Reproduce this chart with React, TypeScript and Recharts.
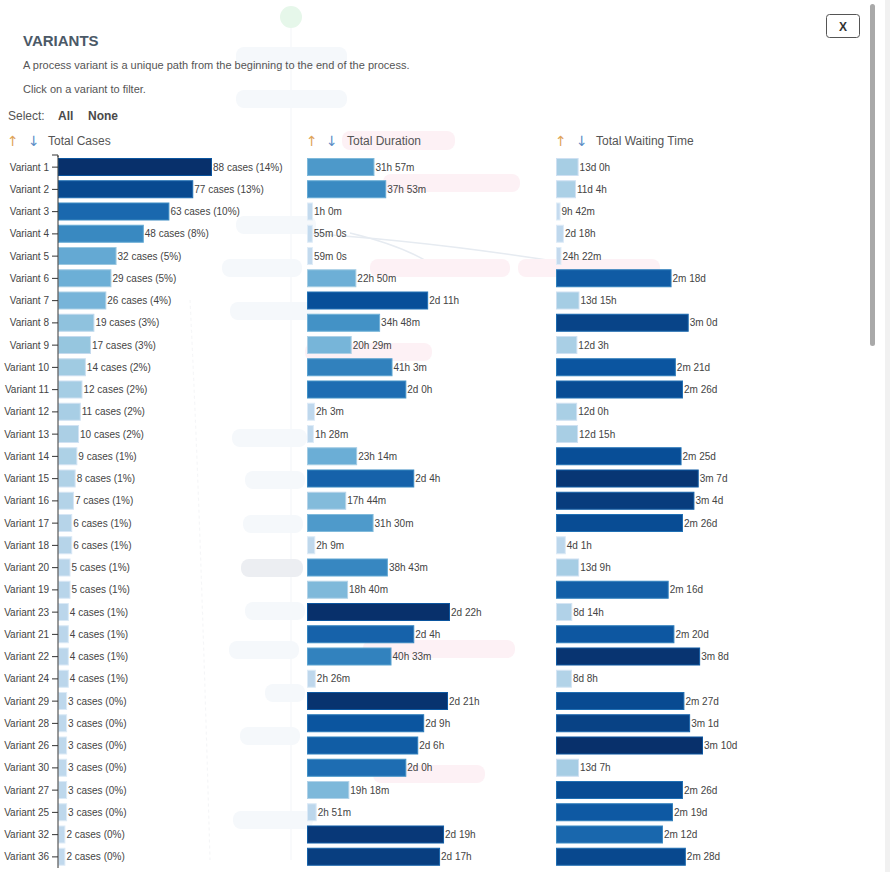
import React from 'react';
import { BarChart, Bar, XAxis, YAxis, LabelList, Cell } from 'recharts';

const FONT = '"Liberation Sans", Arial, Helvetica, sans-serif';

const variants = [
  'Variant 1', 'Variant 2', 'Variant 3', 'Variant 4', 'Variant 5', 'Variant 6', 'Variant 7', 'Variant 8',
  'Variant 9', 'Variant 10', 'Variant 11', 'Variant 12', 'Variant 13', 'Variant 14', 'Variant 15', 'Variant 16',
  'Variant 17', 'Variant 18', 'Variant 20', 'Variant 19', 'Variant 23', 'Variant 21', 'Variant 22', 'Variant 24',
  'Variant 29', 'Variant 28', 'Variant 26', 'Variant 30', 'Variant 27', 'Variant 25', 'Variant 32', 'Variant 36',
];

const totalCases = [88, 77, 63, 48, 32, 29, 26, 19, 17, 14, 12, 11, 10, 9, 8, 7, 6, 6, 5, 5, 4, 4, 4, 4, 3, 3, 3, 3, 3, 3, 2, 2];
const casePercents = [14, 13, 10, 8, 5, 5, 4, 3, 3, 2, 2, 2, 2, 1, 1, 1, 1, 1, 1, 1, 1, 1, 1, 1, 0, 0, 0, 0, 0, 0, 0, 0];

// total duration, in minutes
const totalDurationMin = [
  1917, 2273, 60, 55, 59, 1370, 3540, 2088, 1229, 2463, 2880, 123, 88, 1394, 3120, 1064,
  1890, 129, 2323, 1120, 4200, 3120, 2433, 146, 4140, 3420, 3240, 2880, 1158, 171, 4020, 3900,
];

// total waiting time, in minutes
const totalWaitingMin = [
  18720, 16080, 582, 3960, 1462, 112320, 19620, 129600, 17460, 116640, 123840, 17280, 18180, 122400, 139680, 135360,
  123840, 5820, 19260, 109440, 12360, 115200, 141120, 12000, 125280, 131040, 144000, 19140, 123840, 113760, 103680, 126720,
];

function fmtTime(min: number): string {
  if (min < 60) {
    const m = Math.floor(min);
    return `${m}m ${Math.round((min - m) * 60)}s`;
  }
  const h = min / 60;
  if (h < 48) {
    const hh = Math.floor(h);
    return `${hh}h ${Math.round(min - hh * 60)}m`;
  }
  const d = h / 24;
  if (d < 60) {
    const dd = Math.floor(d);
    return `${dd}d ${Math.round(h - dd * 24)}h`;
  }
  const mo = Math.floor(d / 30);
  return `${mo}m ${Math.round(d - mo * 30)}d`;
}

const BLUES = ['#f7fbff', '#deebf7', '#c6dbef', '#9ecae1', '#6baed6', '#4292c6', '#2171b5', '#08519c', '#08306b'];
function hex2rgb(h: string) {
  return [parseInt(h.slice(1, 3), 16), parseInt(h.slice(3, 5), 16), parseInt(h.slice(5, 7), 16)];
}
function blues(t: number): string {
  const tt = Math.max(0, Math.min(1, t));
  const pos = tt * (BLUES.length - 1);
  const i = Math.min(BLUES.length - 2, Math.floor(pos));
  const f = pos - i;
  const a = hex2rgb(BLUES[i]);
  const b = hex2rgb(BLUES[i + 1]);
  const c = a.map((v, k) => Math.round(v + (b[k] - v) * f));
  return `rgb(${c[0]},${c[1]},${c[2]})`;
}
const shade = (v: number, max: number) => 0.25 + 0.75 * (v / max);

const casesData = variants.map((name, i) => ({
  name,
  value: totalCases[i],
  label: `${totalCases[i]} cases (${casePercents[i]}%)`,
}));
const durationData = variants.map((name, i) => ({
  name,
  value: totalDurationMin[i],
  label: fmtTime(totalDurationMin[i]),
}));
const waitingData = variants.map((name, i) => ({
  name,
  value: totalWaitingMin[i],
  label: fmtTime(totalWaitingMin[i]),
}));

const PAD = 4;

const PadBar = (props: any) => {
  const { x, y, width, height, fill, stroke } = props;
  if (x == null || y == null) return null;
  return (
    <rect
      x={x + 0.5}
      y={y + 0.5}
      width={Math.max(0, width) + PAD - 1}
      height={height - 1}
      fill={fill}
      stroke={stroke}
      strokeWidth={1}
    />
  );
};

const EndLabel = (props: any) => {
  const { x, y, width, height, value } = props;
  return (
    <text
      x={x + Math.max(0, width) + PAD + 1}
      y={y + height / 2}
      dy="0.36em"
      fontSize={10}
      fontFamily={FONT}
      fill="#444"
    >
      {value}
    </text>
  );
};

const VariantTick = (props: any) => {
  const { x, y, payload } = props;
  return (
    <text x={x} y={y} dy="0.36em" textAnchor="end" fontSize={10} fontFamily={FONT} fill="#444">
      {payload.value}
    </text>
  );
};

function Column(props: {
  data: { name: string; value: number; label: string }[];
  left: number;
  width: number;
  marginLeft: number;
  plotWidth: number;
  showAxis: boolean;
}) {
  const { data, left, width, marginLeft, plotWidth, showAxis } = props;
  const max = Math.max(...data.map((d) => d.value));
  const yAxisW = showAxis ? 58 : 0;
  return (
    <div style={{ position: 'absolute', left, top: 150, width, height: 722 }}>
      <BarChart
        width={width}
        height={722}
        data={data}
        layout="vertical"
        margin={{ top: 6, bottom: 4, left: marginLeft, right: width - marginLeft - yAxisW - plotWidth }}
        barSize={18}
      >
        <XAxis type="number" hide domain={[0, 'dataMax']} />
        {showAxis ? (
          <YAxis
            type="category"
            dataKey="name"
            width={58}
            interval={0}
            tickSize={6}
            tickMargin={3}
            axisLine={{ stroke: '#333' }}
            tickLine={{ stroke: '#333' }}
            tick={<VariantTick />}
          />
        ) : (
          <YAxis type="category" dataKey="name" hide />
        )}
        <Bar dataKey="value" isAnimationActive={false} shape={<PadBar />}>
          {data.map((d, i) => (
            <Cell key={i} fill={blues(shade(d.value, max))} stroke={blues(shade(d.value, max) - 0.14)} />
          ))}
          <LabelList dataKey="label" content={<EndLabel />} />
        </Bar>
      </BarChart>
    </div>
  );
}

function Background() {
  const light = '#f5f8fb';
  const pink = '#fdf1f5';
  const boxes: [number, number, number, number][] = [
    [236, 47, 111, 20], [236, 90, 111, 18], [236, 216, 80, 18], [222, 259, 80, 18], [230, 302, 90, 18],
    [232, 429, 75, 18], [245, 471, 60, 18], [243, 515, 60, 18], [245, 602, 60, 18], [229, 641, 70, 18],
    [265, 684, 40, 18], [240, 727, 60, 18], [233, 811, 80, 18],
  ];
  const pinks: [number, number, number, number][] = [
    [342, 131, 113, 19], [383, 174, 137, 18], [370, 259, 140, 18], [518, 259, 142, 18], [305, 343, 127, 18],
    [363, 640, 152, 18], [373, 765, 112, 18],
  ];
  return (
    <g>
      <line x1={291} y1={28} x2={291} y2={860} stroke="#f3f5f8" strokeWidth={1} />
      <path d="M 300 233 Q 420 240 560 262" fill="none" stroke="#e6ebf1" strokeWidth={1.5} />
      <path d="M 350 233 Q 400 245 428 262" fill="none" stroke="#e6ebf1" strokeWidth={1.5} />
      <path d="M 190 300 Q 200 500 210 860" fill="none" stroke="#f4f5f7" strokeWidth={1} strokeDasharray="3 3" />
      <circle cx={291} cy={17} r={11} fill="#e6f7ea" />
      {boxes.map((b, i) => (
        <rect key={'b' + i} x={b[0]} y={b[1]} width={b[2]} height={b[3]} rx={8} fill={light} />
      ))}
      <rect x={241} y={559} width={62} height={18} rx={8} fill="#eceef2" />
      {pinks.map((b, i) => (
        <rect key={'p' + i} x={b[0]} y={b[1]} width={b[2]} height={b[3]} rx={8} fill={pink} />
      ))}
    </g>
  );
}

function Header() {
  const up = '#e0a45a';
  const down = '#5a8cc6';
  const ARROW = '"DejaVu Sans", sans-serif';
  const cols: [number, number, number, string][] = [
    [7, 28, 48, 'Total Cases'],
    [306, 326, 347, 'Total Duration'],
    [555, 576, 596, 'Total Waiting Time'],
  ];
  return (
    <g fontFamily={FONT}>
      <text x={23} y={46} fontSize={15} fontWeight="bold" fill="#4b5967">VARIANTS</text>
      <text x={23} y={69} fontSize={11} fill="#555">
        A process variant is a unique path from the beginning to the end of the process.
      </text>
      <text x={23} y={92.5} fontSize={11} fill="#555">Click on a variant to filter.</text>
      <text x={8} y={120} fontSize={12} fill="#555">Select:</text>
      <text x={58} y={120} fontSize={12} fontWeight="bold" fill="#4a4a4a">All</text>
      <text x={88} y={120} fontSize={12} fontWeight="bold" fill="#4a4a4a">None</text>
      {cols.map(([xu, xd, xt, label], i) => (
        <g key={i}>
          <text x={xu} y={146} fontSize={14} fontFamily={ARROW} fill={up}>↑</text>
          <text x={xd} y={146} fontSize={14} fontFamily={ARROW} fill={down}>↓</text>
          <text x={xt} y={145} fontSize={12} fill="#555">{label}</text>
        </g>
      ))}
      <line x1={52} y1={155} x2={58} y2={155} stroke="#333" strokeWidth={1} />
      <line x1={58} y1={155} x2={58} y2={157} stroke="#333" strokeWidth={1} />
      <rect x={826.5} y={14.5} width={33} height={23} rx={3} fill="#fff" stroke="#555" strokeWidth={1} />
      <text x={843} y={30.5} fontSize={12} fontWeight="bold" fill="#333" textAnchor="middle">X</text>
      <rect x={870} y={4} width={5} height={342} rx={2.5} fill="#a9a9a9" />
      <rect x={885} y={0} width={5} height={872} fill="#f1f1f1" />
    </g>
  );
}

export default function App() {
  return (
    <div
      style={{
        position: 'absolute',
        left: 0,
        top: 0,
        width: 890,
        height: 872,
        overflow: 'hidden',
        background: '#fff',
        fontFamily: FONT,
      }}
    >
      <svg width={890} height={872} style={{ position: 'absolute', left: 0, top: 0 }}>
        <Background />
        <Header />
      </svg>
      <Column data={casesData} left={0} width={300} marginLeft={0} plotWidth={150} showAxis={true} />
      <Column data={durationData} left={290} width={260} marginLeft={17} plotWidth={139} showAxis={false} />
      <Column data={waitingData} left={540} width={330} marginLeft={16} plotWidth={143} showAxis={false} />
    </div>
  );
}
